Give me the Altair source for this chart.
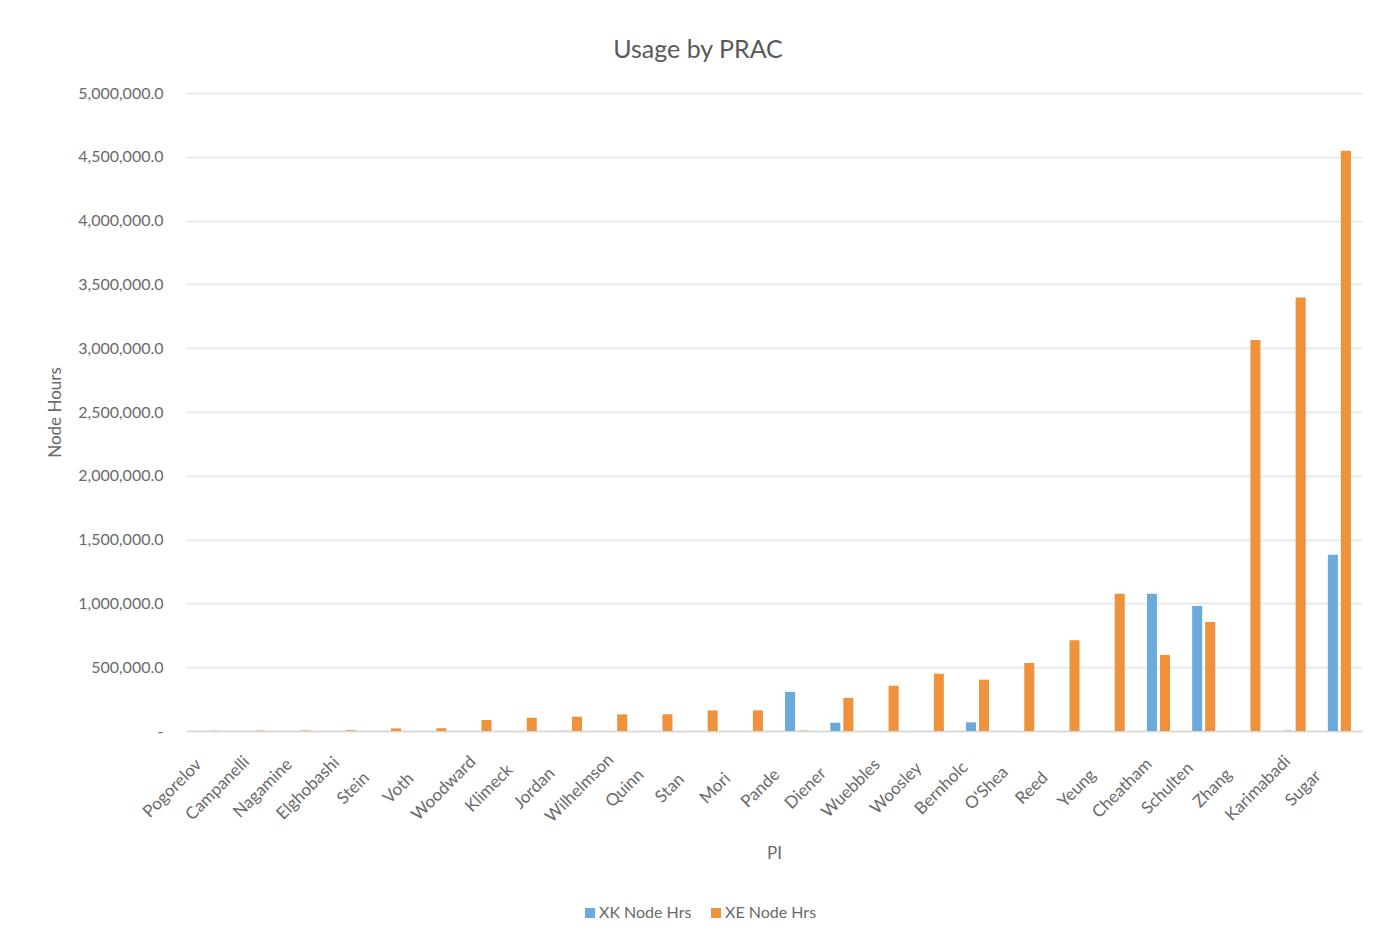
import altair as alt
import pandas as pd

# Principal investigators, ordered by total node hours (ascending)
PIS = [
    "Pogorelov", "Campanelli", "Nagamine", "Elghobashi", "Stein", "Voth",
    "Woodward", "Klimeck", "Jordan", "Wilhelmson", "Quinn", "Stan", "Mori",
    "Pande", "Diener", "Wuebbles", "Woosley", "Bernholc", "O'Shea", "Reed",
    "Yeung", "Cheatham", "Schulten", "Zhang", "Karimabadi", "Sugar",
]
SERIES = ["XK Node Hrs", "XE Node Hrs"]
XK_HOURS = [
    0, 0, 0, 0, 0, 0,
    0, 0, 2000, 0, 0, 0, 0,
    306000, 65000, 0, 0, 68000, 0, 0,
    0, 1076000, 980000, 1000, 3000, 1382000,
]
XE_HOURS = [
    2000, 3000, 4000, 6000, 20000, 22000,
    86000, 104000, 112000, 130000, 131000, 161000, 162000,
    3000, 259000, 355000, 449000, 402000, 533000, 711000,
    1076000, 596000, 854000, 3065000, 3398000, 4548000,
]
Y_TICKS = [0, 500000, 1000000, 1500000, 2000000, 2500000,
           3000000, 3500000, 4000000, 4500000, 5000000]
COLORS = ["#6AABDB", "#F0913B"]

rows = []
for pi, xk, xe in zip(PIS, XK_HOURS, XE_HOURS):
    rows.append({"PI": pi, "Series": SERIES[0], "Hours": xk})
    rows.append({"PI": pi, "Series": SERIES[1], "Hours": xe})
df = pd.DataFrame(rows)

FONT = "Lato"
TEXT = "#595959"
LABEL = "#6A6A6A"

chart = (
    alt.Chart(df)
    .mark_bar()
    .encode(
        x=alt.X(
            "PI:N",
            sort=PIS,
            title="PI",
            scale=alt.Scale(paddingInner=0.49, paddingOuter=0.245),
            axis=alt.Axis(
                labelAngle=-45,
                labelAlign="center",
                labelBaseline="middle",
                labelOffset=-36,
                labelPadding=57,
                labelFontSize=17,
                labelColor=LABEL,
                labelFont=FONT,
                ticks=False,
                tickSize=0,
                grid=False,
                domainColor="#D9D9D9",
                domainWidth=1.5,
                titleFont=FONT,
                titleFontSize=17,
                titleFontWeight="normal",
                titleColor=LABEL,
                titlePadding=21,
            ),
        ),
        xOffset=alt.XOffset("Series:N", sort=SERIES,
                            scale=alt.Scale(paddingInner=0.23)),
        y=alt.Y(
            "Hours:Q",
            title="Node Hours",
            scale=alt.Scale(domain=[0, 5000000], nice=False),
            axis=alt.Axis(
                values=Y_TICKS,
                labelExpr="datum.value == 0 ? '-\u00a0\u00a0' : format(datum.value, ',.1f')",
                labelFontSize=16,
                labelColor=LABEL,
                labelFont=FONT,
                labelPadding=23,
                ticks=False,
                tickSize=0,
                domain=False,
                gridColor="#E9E9E9",
                gridWidth=2,
                titleFont=FONT,
                titleFontSize=17,
                titleFontWeight="normal",
                titleColor=LABEL,
                titlePadding=13,
            ),
        ),
        color=alt.Color(
            "Series:N",
            sort=SERIES,
            scale=alt.Scale(domain=SERIES, range=COLORS),
            legend=alt.Legend(
                title=None,
                orient="none",
                legendX=396,
                legendY=812,
                direction="horizontal",
                symbolType="square",
                symbolSize=100,
                symbolStrokeWidth=0,
                labelFont=FONT,
                labelFontSize=16,
                labelColor=LABEL,
                labelOffset=1,
                columnPadding=16,
            ),
        ),
    )
    .properties(
        width=1176,
        height=638,
        title=alt.TitleParams(
            "Usage by PRAC",
            font=FONT,
            fontSize=25,
            fontWeight="normal",
            color=TEXT,
            anchor="middle",
            dx=-76,
            offset=22,
        ),
        autosize=alt.AutoSizeParams(type="none"),
        padding={"left": 186, "top": 93, "right": 13, "bottom": 209},
    )
    .configure(background="white")
    .configure_view(stroke=None)
)

chart.save("out.html", embed_options={"renderer": "svg", "actions": False})
